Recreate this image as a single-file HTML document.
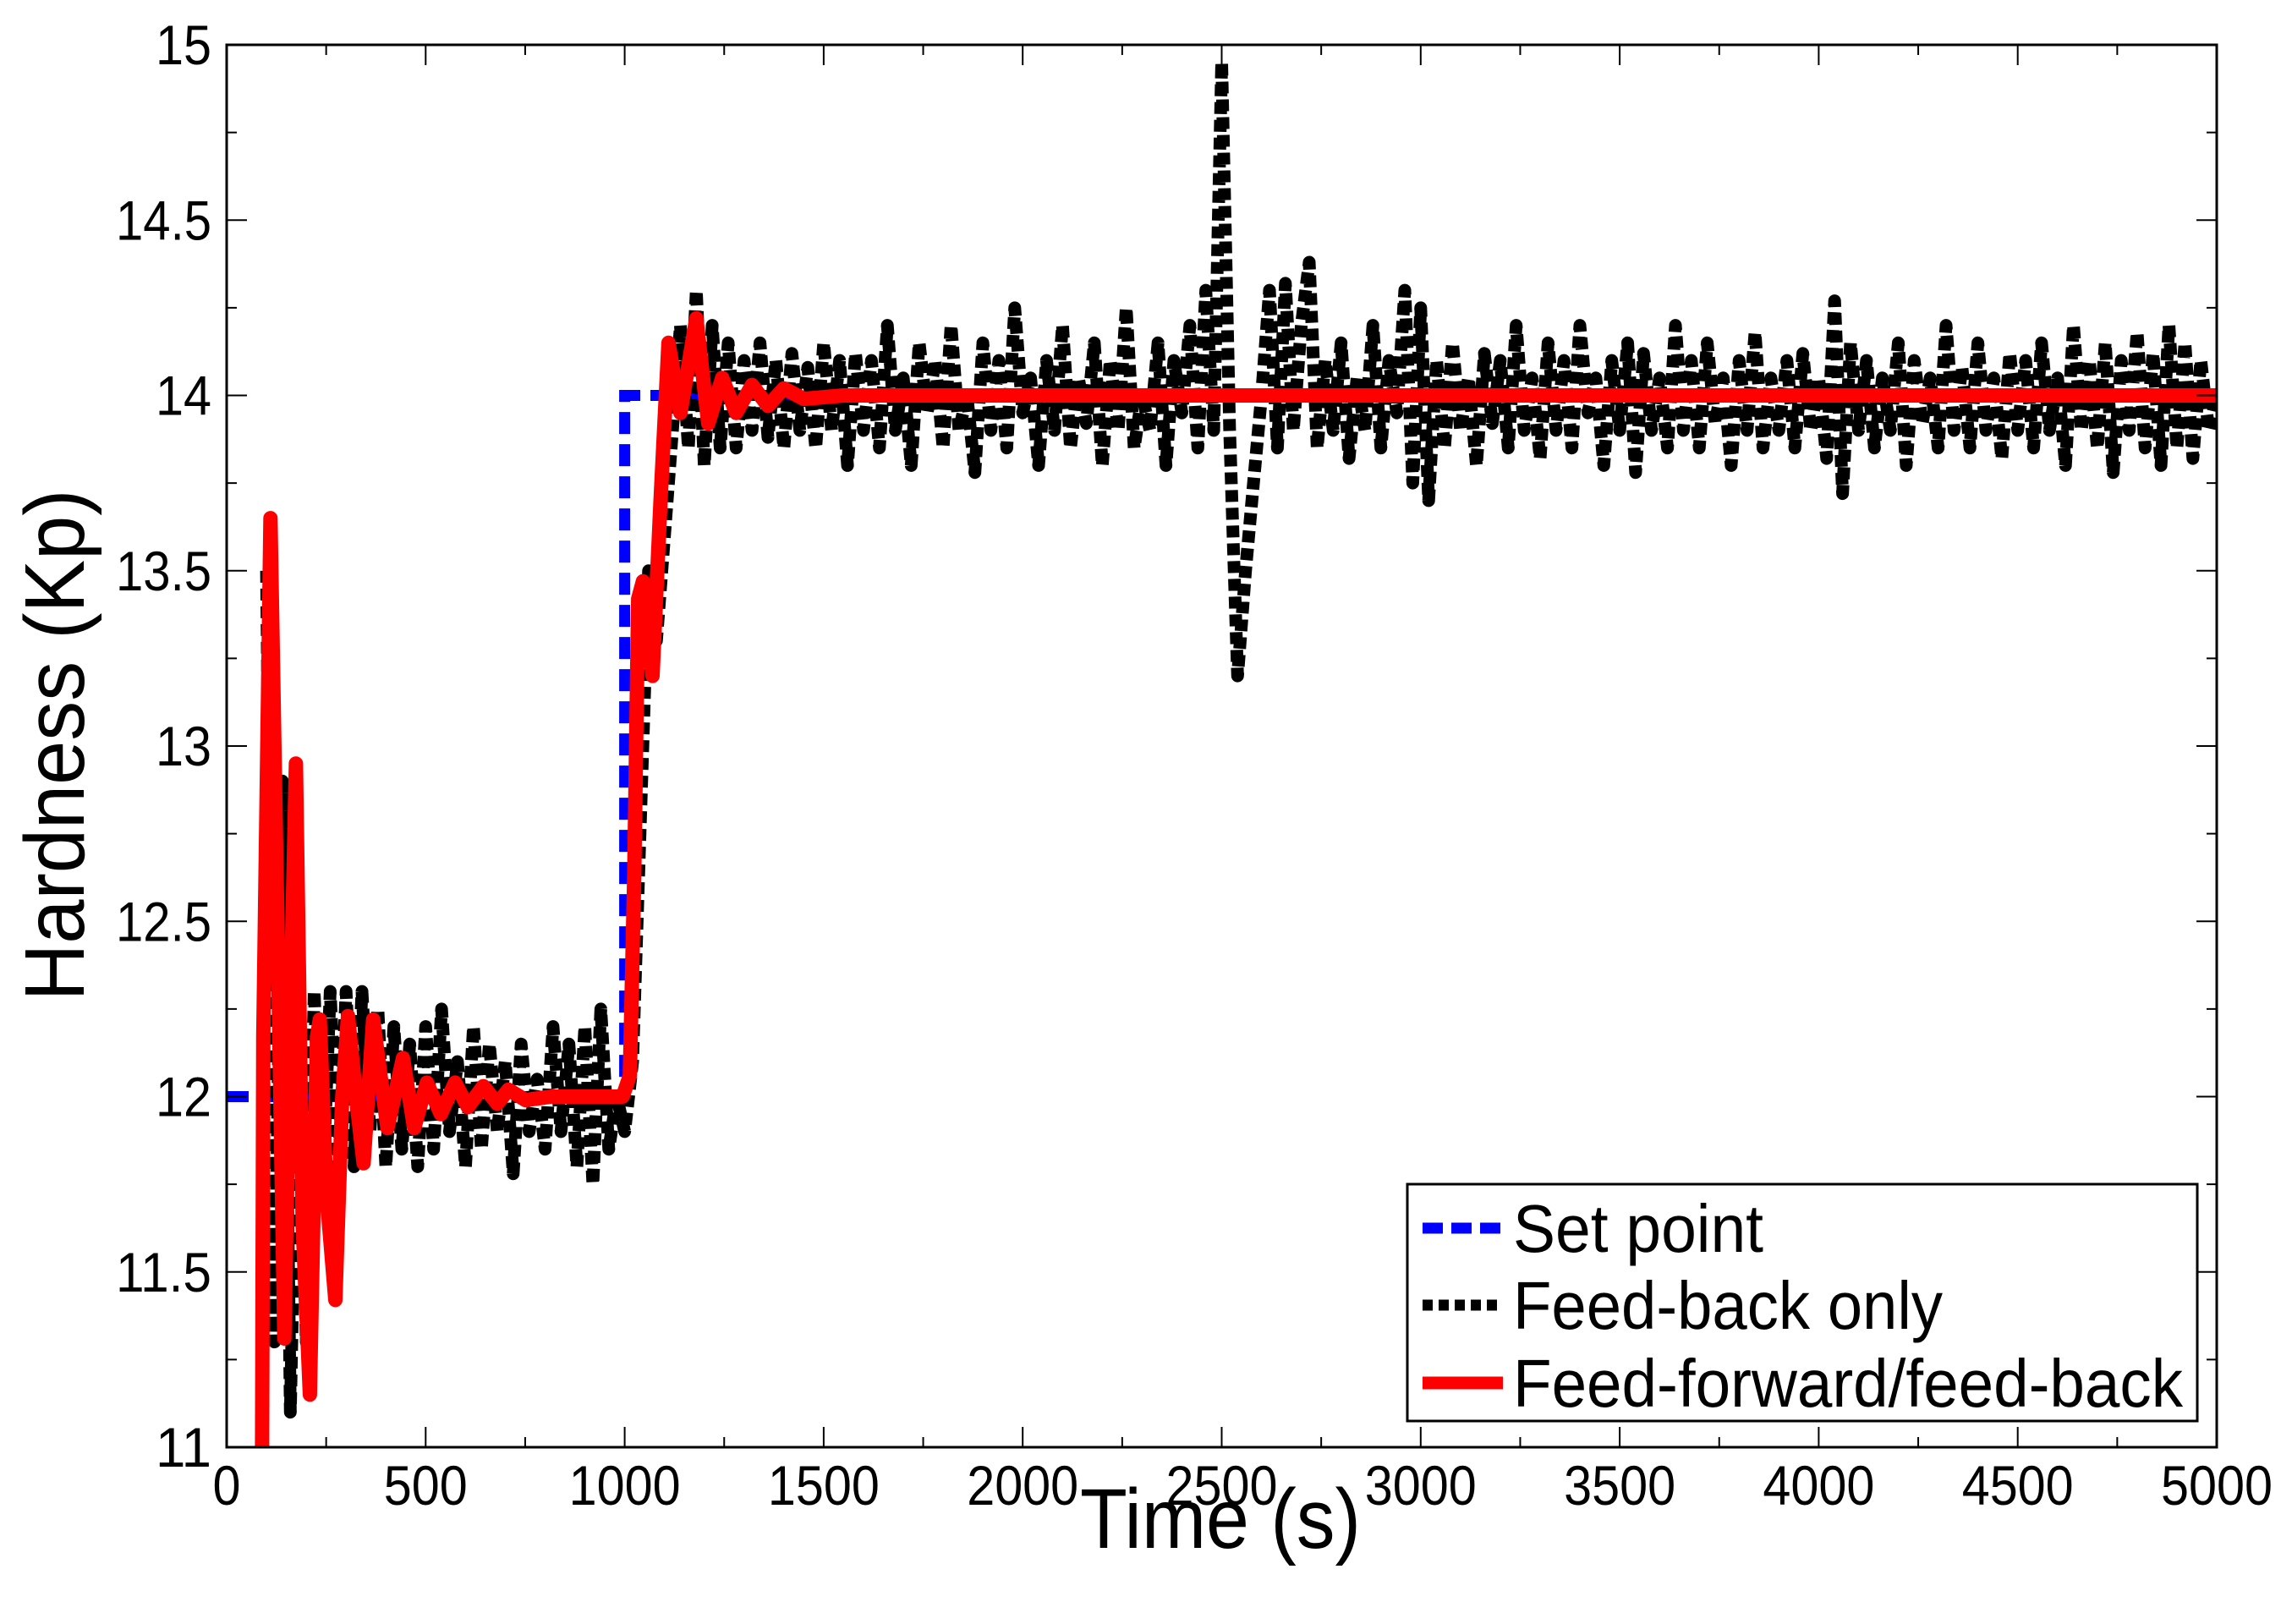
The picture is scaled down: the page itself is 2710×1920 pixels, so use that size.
<!DOCTYPE html>
<html><head><meta charset="utf-8"><style>
html,body{margin:0;padding:0;background:#fff;}
svg{display:block;font-family:"Liberation Sans",Arial,sans-serif;}
</style></head><body>
<svg id="chart" width="2710" height="1920" viewBox="0 0 2710 1920" xmlns="http://www.w3.org/2000/svg">
<rect x="0" y="0" width="2710" height="1920" fill="#fff"/>
<g id="plot"></g>
<g id="axes"></g>
<text x="1443" y="1830" font-size="100" text-anchor="middle" textLength="332" lengthAdjust="spacingAndGlyphs">Time (s)</text>
<text transform="translate(99,881) rotate(-90)" font-size="100" text-anchor="middle" textLength="605" lengthAdjust="spacingAndGlyphs">Hardness (Kp)</text>
<g>
<rect x="1664" y="1400" width="934" height="280" fill="#fff" stroke="#000" stroke-width="3"/>
<line x1="1682" y1="1452" x2="1777" y2="1452" stroke="#0000ff" stroke-width="13" stroke-dasharray="24 10"/>
<text x="1789" y="1480" font-size="80" textLength="296" lengthAdjust="spacingAndGlyphs">Set point</text>
<line x1="1682" y1="1543" x2="1777" y2="1543" stroke="#000" stroke-width="13" stroke-dasharray="12 7"/>
<text x="1789" y="1571" font-size="80" textLength="508" lengthAdjust="spacingAndGlyphs">Feed-back only</text>
<line x1="1682" y1="1635" x2="1777" y2="1635" stroke="#ff0000" stroke-width="15"/>
<text x="1789" y="1663" font-size="80" textLength="792" lengthAdjust="spacingAndGlyphs">Feed-forward/feed-back</text>
</g>
</svg>
<script>
// ---- data ----
const xTicks = [0,500,1000,1500,2000,2500,3000,3500,4000,4500,5000];
const yTicks = [11,11.5,12,12.5,13,13.5,14,14.5,15];
const yTickLabels = ["11","11.5","12","12.5","13","13.5","14","14.5","15"];
const setpointTimes = [0,1000,1000,5000];
const setpointValues = [12,12,14,14];
const redTimes = [89,92,110,127,145,159,174,191,209,227,234,251,273,290,305,326,344,368,404,443,471,503,538,574,606,645,680,708,751,815,995,1013,1024,1034,1046,1070,1090,1110,1140,1180,1210,1245,1280,1320,1360,1400,1450,1550,5000];
const redValues = [11.0,12.17,13.65,12.53,11.31,12.17,12.95,11.63,11.15,12.17,12.22,11.72,11.42,11.99,12.23,11.99,11.81,12.22,11.91,12.11,11.91,12.04,11.95,12.04,11.97,12.03,11.98,12.02,11.99,12.0,12.0,12.06,12.63,13.42,13.47,13.2,13.7,14.15,13.95,14.22,13.92,14.05,13.95,14.03,13.97,14.02,13.99,14.0,14.0];
const blackStart = 100;
const blackStep = 20;
const blackValues = [
13.5,11.3,12.9,11.1,12.2,11.3,12.3,11.7,12.3,11.8,12.3,11.8,12.3,11.9,
12.25,11.8,12.2,11.85,12.15,11.8,12.2,11.85,12.25,11.9,12.1,11.8,12.2,11.85,12.15,11.9,12.1,11.78,12.15,11.9,12.05,11.85,12.2,11.9,12.15,11.8,12.2,11.75,12.25,11.85,12.0,11.9,
12.1,12.8,13.5,13.3,13.6,13.9,14.2,13.85,14.3,13.8,14.2,13.85,14.15,13.85,14.1,13.9,14.15,13.88,14.1,13.85,14.12,13.9,14.08,13.85,14.15,13.9,14.1,13.8,14.12,13.9,
14.1,13.85,14.2,13.9,14.05,13.8,14.15,13.95,14.1,13.85,14.2,13.9,14.0,13.78,14.15,13.9,14.1,13.85,14.25,13.95,14.05,13.8,14.1,13.9,14.2,13.85,14.05,13.92,14.15,13.8,14.1,13.9,14.25,13.85,14.0,13.9,14.15,13.8,14.1,13.95,14.2,13.85,14.3,13.9,
14.95,13.9,13.2,13.5,13.75,14.0,14.3,13.85,14.32,13.9,14.2,
14.38,13.85,14.1,13.9,14.15,13.82,14.05,13.9,14.2,13.85,14.1,13.95,14.3,13.75,14.25,13.7,14.1,13.85,14.15,13.9,14.05,13.8,14.12,13.92,14.1,13.85,14.2,13.9,14.05,13.82,
14.15,13.9,14.1,13.85,14.2,13.95,14.05,13.8,14.1,13.9,14.15,13.78,14.12,13.9,14.05,13.85,14.2,13.9,14.1,13.85,14.15,13.92,14.05,13.8,14.1,13.9,14.18,13.85,14.05,13.9,
14.1,13.85,14.12,13.9,14.05,13.82,14.27,13.72,14.15,13.9,14.1,13.85,14.05,13.9,14.15,13.8,14.1,13.92,14.05,13.85,14.2,13.9,14.08,13.85,14.15,13.9,14.05,13.82,14.12,13.9,
14.1,13.85,14.15,13.9,14.05,13.8,14.2,13.9,14.1,13.85,14.15,13.78,14.1,13.9,14.18,13.85,14.12,13.8,14.2,13.85,14.15,13.82,14.1,13.9,14.0
];
// ---- axes mapping ----
const X0=268,X1=2621,Y0=1711,Y1=53;
function sx(t){return X0+(t-0)/(5000-0)*(X1-X0);}
function sy(v){return Y0-(v-11)/(15-11)*(Y0-Y1);}
const NS='http://www.w3.org/2000/svg';
const plot=document.getElementById('plot');
const axes=document.getElementById('axes');
function mk(tag,attrs,parent){const e=document.createElementNS(NS,tag);for(const k in attrs)e.setAttribute(k,attrs[k]);parent.appendChild(e);return e;}
function labelLen(s){let w=0;for(const c of s)w+=(c==='.')?14:33;return w;}
const defs=mk('defs',{},plot);
const cp=mk('clipPath',{id:'clip'},defs);
mk('rect',{x:X0,y:Y1-10,width:X1-X0,height:Y0-Y1+10},cp);
plot.setAttribute('clip-path','url(#clip)');
// set point
let d='';
setpointTimes.forEach((t,i)=>{d+=(i?'L':'M')+sx(t).toFixed(1)+' '+sy(setpointValues[i]).toFixed(1);});
const sp=mk('path',{d:d,fill:'none',stroke:'#0000ff','stroke-width':13,'stroke-dasharray':'26 12'},plot);


// feedback only
d='';
blackValues.forEach((v,i)=>{const t=blackStart+i*blackStep;d+=(i?'L':'M')+sx(t).toFixed(1)+' '+sy(v).toFixed(1);});
const bl=mk('path',{d:d,fill:'none',stroke:'#000','stroke-width':15,'stroke-dasharray':'14 7','stroke-linejoin':'round'},plot);


// feed-forward/feed-back
d='';
redTimes.forEach((t,i)=>{d+=(i?'L':'M')+sx(t).toFixed(1)+' '+sy(redValues[i]).toFixed(1);});
const rl=mk('path',{d:d,fill:'none',stroke:'#ff0000','stroke-width':17,'stroke-linejoin':'round','stroke-linecap':'round'},plot);


// frame
const fr=mk('rect',{x:X0,y:Y1,width:X1-X0,height:Y0-Y1,fill:'none',stroke:'#000','stroke-width':3},axes);


for(let t=0;t<=5000;t+=250){
  const major=(t%500===0);const L=major?24:12;const x=sx(t);
  mk('line',{x1:x,y1:Y0,x2:x,y2:Y0-L,stroke:'#000','stroke-width':2},axes);
  mk('line',{x1:x,y1:Y1,x2:x,y2:Y1+L,stroke:'#000','stroke-width':2},axes);
}
xTicks.forEach(t=>{
  const s=String(t);
  const tx=mk('text',{x:sx(t),y:1779,'font-size':66,'text-anchor':'middle',textLength:labelLen(s),lengthAdjust:'spacingAndGlyphs'},axes);
  tx.textContent=s;
  
  
});
for(let v=11;v<=15.001;v+=0.25){
  const major=(Math.abs(v*2-Math.round(v*2))<1e-6);const L=major?24:12;const y=sy(v);
  mk('line',{x1:X0,y1:y,x2:X0+L,y2:y,stroke:'#000','stroke-width':2},axes);
  mk('line',{x1:X1,y1:y,x2:X1-L,y2:y,stroke:'#000','stroke-width':2},axes);
}
yTicks.forEach((v,i)=>{
  const s=yTickLabels[i];
  const ty=mk('text',{x:250,y:sy(v)+23,'font-size':66,'text-anchor':'end',textLength:labelLen(s),lengthAdjust:'spacingAndGlyphs'},axes);
  ty.textContent=s;
  
  
});
</script>
</body></html>
